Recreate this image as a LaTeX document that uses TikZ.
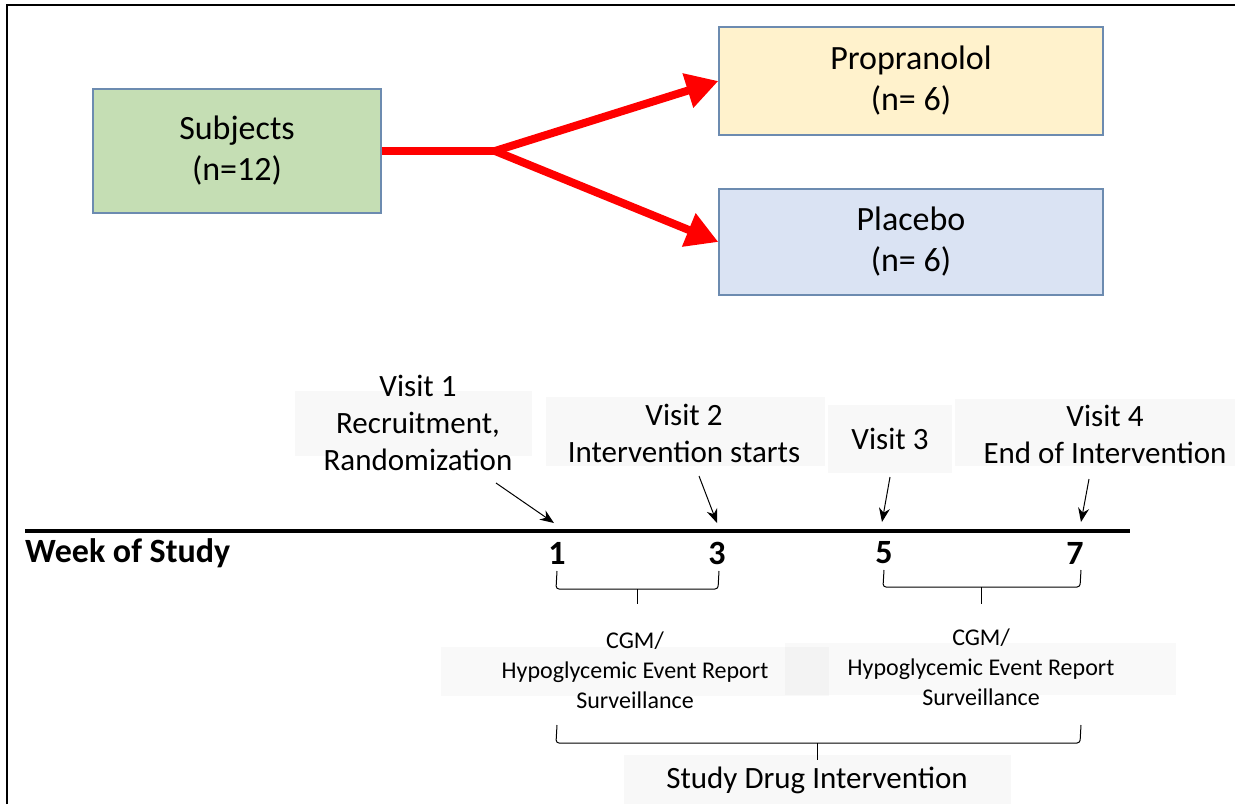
\documentclass[tikz,border=0pt]{standalone}
\usepackage{fontspec}
\setmainfont{Carlito}
\usetikzlibrary{arrows.meta}
\definecolor{Verde}{RGB}{197, 222, 180}
\definecolor{Amarillo}{RGB}{255, 242, 204}
\definecolor{Azul}{RGB}{218, 227, 243}
\definecolor{Borde}{RGB}{108, 139, 176}
\definecolor{Fondo}{RGB}{248, 248, 248}
\definecolor{Rojo}{RGB}{255, 0, 0}

\begin{document}
\begin{tikzpicture}[x=1pt, y=-1pt,
    grupo/.style={draw=Borde, line width=1.2pt, align=center, inner sep=0pt,
                  font=\fontsize{34}{41}\selectfont},
    visita/.style={align=center, inner sep=0pt, font=\fontsize{31}{37}\selectfont},
    vigilancia/.style={align=center, inner sep=0pt, font=\fontsize{24}{30}\selectfont},
    semana/.style={inner sep=0pt, font=\fontsize{34}{40}\selectfont\bfseries},
    flecha/.style={-{Stealth[length=14pt, width=11pt]}, line width=1pt},
    rama/.style={Rojo, line width=8pt, -{Triangle[length=32pt, width=34pt]}}]
    \useasboundingbox (0,0) rectangle (1235,804);

    %Marco exterior (cortado a la derecha y abajo)
    \draw[line width=1.5pt] (7,804) -- (7,5) -- (1235,5);

    %Cajas de los grupos
    \node[grupo, fill=Verde, minimum width=288pt, minimum height=124pt]
        (sujetos) at (237,151) {Subjects\\(n=12)};
    \node[grupo, fill=Amarillo, minimum width=384pt, minimum height=108pt]
        (propranolol) at (911,81) {Propranolol\\(n= 6)};
    \node[grupo, fill=Azul, minimum width=384pt, minimum height=106pt]
        (placebo) at (911,242) {Placebo\\(n= 6)};

    %Aleatorizacion
    \coordinate (bif) at (495,151);
    \draw[Rojo, line width=8pt] (sujetos.east) -- (bif);
    \draw[rama] (bif) -- (propranolol.west);
    \draw[rama] (bif) -- (placebo.west);

    %Fondos grises de las etiquetas
    \fill[Fondo] (295,391) rectangle (532,456);
    \fill[Fondo] (546,397) rectangle (825,466);
    \fill[Fondo] (828,405) rectangle (952,473);
    \fill[Fondo] (955,399) rectangle (1235,466);
    \fill[black, fill opacity=0.025] (441,647) rectangle (829,696);
    \fill[black, fill opacity=0.025] (785,643) rectangle (1176,695);
    \fill[Fondo] (624,755) rectangle (1011,804);

    %Visitas
    \node[visita] (v1) at (418,423) {Visit 1\\Recruitment,\\Randomization};
    \node[visita] (v2) at (684,433) {Visit 2\\Intervention starts};
    \node[visita] (v3) at (890,439) {Visit 3};
    \node[visita] (v4) at (1105,434) {Visit 4\\End of Intervention};

    %Linea de tiempo
    \draw[line width=4.5pt] (25,531) -- (1130,531);
    \node[semana, anchor=west] (ws) at (25,553) {Week of Study};
    \node[semana] (s1) at (557,553) {1};
    \node[semana] (s3) at (717,553) {3};
    \node[semana] (s5) at (884,553) {5};
    \node[semana] (s7) at (1075,553) {7};

    \coordinate (p1) at (554,523);
    \coordinate (p3) at (717,523);
    \coordinate (p5) at (882,522);
    \coordinate (p7) at (1081,522);
    \draw[flecha] (496,483) -- (p1);
    \draw[flecha] (699,476) -- (p3);
    \draw[flecha] (890,477) -- (p5);
    \draw[flecha] (1089,479) -- (p7);

    %Llaves
    \draw[line width=1pt, rounded corners=3pt]
        (557,571) -- (556,589) -- (718,589) -- (719,571);
    \draw[line width=1pt] (637,589) -- (637,604);
    \draw[line width=1pt, rounded corners=3pt]
        (884,570) -- (883,587) -- (1080,587) -- (1081,570);
    \draw[line width=1pt] (981,587) -- (981,604);
    \draw[line width=1pt, rounded corners=3pt]
        (557,725) -- (556,743) -- (1080,743) -- (1081,725);
    \draw[line width=1pt] (817,743) -- (817,760);

    %Vigilancia
    \node[vigilancia] (cgm1) at (635,670) {CGM/\\Hypoglycemic Event Report\\Surveillance};
    \node[vigilancia] (cgm2) at (981,667) {CGM/\\Hypoglycemic Event Report\\Surveillance};
    \node[visita] (droga) at (817,780) {Study Drug Intervention};
\end{tikzpicture}
\end{document}
